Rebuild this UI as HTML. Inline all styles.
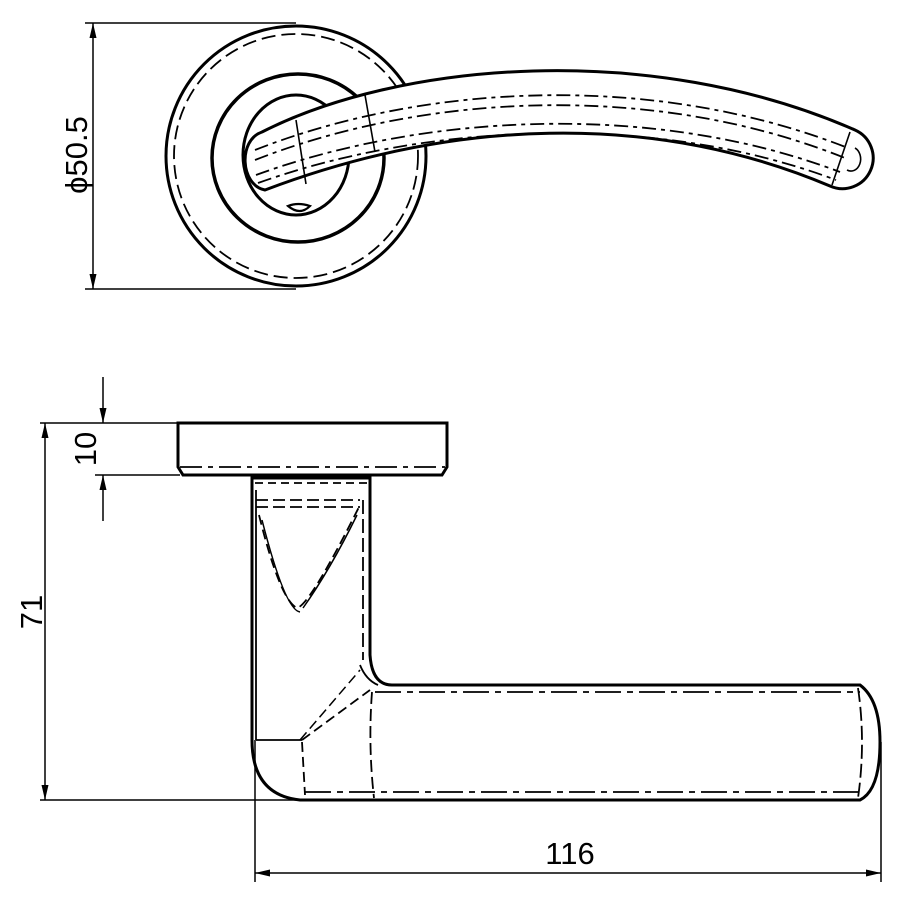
<!DOCTYPE html>
<html><head><meta charset="utf-8"><style>
html,body{margin:0;padding:0;background:#fff;}
svg{display:block}
text{font-family:"Liberation Sans",sans-serif;font-size:31px;fill:#000}
</style></head><body>
<svg width="900" height="900" viewBox="0 0 900 900" xmlns="http://www.w3.org/2000/svg">
<defs>
<marker id="a" markerWidth="15" markerHeight="7" refX="15" refY="3.5" orient="auto-start-reverse" markerUnits="userSpaceOnUse">
<path d="M0,0 L15,3.5 L0,7z" fill="#000" stroke="none"/></marker>
</defs>
<g fill="none" stroke="#000">
<!-- TOP VIEW -->
<line x1="85" y1="23" x2="296" y2="23" stroke-width="1.5"/>
<line x1="85" y1="289" x2="296" y2="289" stroke-width="1.5"/>
<line x1="93" y1="23" x2="93" y2="289" stroke-width="1.5" marker-start="url(#a)" marker-end="url(#a)"/>
<circle cx="296" cy="156" r="130" stroke-width="3"/>
<circle cx="296" cy="156" r="122" stroke-width="1.8" stroke-dasharray="14 6"/>
<ellipse cx="298" cy="158" rx="86" ry="84" stroke-width="3.5"/>
<ellipse cx="296" cy="155" rx="53" ry="60" stroke-width="3"/>
<path d="M288,206 q10,-4 22,0 q-10,10 -22,0z" stroke-width="2.2"/>
<!-- lever -->
<path d="M262,132 C400,62 650,40 855,130 A26,26 0 0 1 830,186 C650,110 450,120 265,190 C240,185 238,140 262,132z" fill="#fff" stroke-width="3"/>
<path d="M255,150 C420,85 650,70 848,148" stroke-width="1.8" stroke-dasharray="14 5 4 5"/>
<path d="M255,160 C420,95 650,80 845,158" stroke-width="1.8" stroke-dasharray="14 5 4 5"/>
<path d="M256,175 C420,115 650,100 840,172" stroke-width="1.8" stroke-dasharray="14 5 4 5"/>
<path d="M258,183 C420,125 650,110 836,180" stroke-width="1.8" stroke-dasharray="14 5 4 5"/>
<line x1="296" y1="120" x2="306" y2="184" stroke-width="1.6"/>
<line x1="365" y1="95" x2="375" y2="152" stroke-width="1.6"/>
<line x1="850" y1="132" x2="832" y2="185" stroke-width="1.6"/>
<path d="M855,148 a8,10 0 0 1 -8,22" stroke-width="1.6"/>
<!-- SIDE VIEW dims -->
<line x1="40" y1="423" x2="178" y2="423" stroke-width="1.5"/>
<line x1="95" y1="475" x2="180" y2="475" stroke-width="1.5"/>
<line x1="103" y1="377" x2="103" y2="423" stroke-width="1.5" marker-end="url(#a)"/>
<line x1="103" y1="521" x2="103" y2="475" stroke-width="1.5" marker-end="url(#a)"/>
<line x1="45" y1="423" x2="45" y2="800" stroke-width="1.5" marker-start="url(#a)" marker-end="url(#a)"/>
<line x1="40" y1="800" x2="300" y2="800" stroke-width="1.5"/>
<line x1="255" y1="740" x2="255" y2="882" stroke-width="1.5"/>
<line x1="881" y1="742" x2="881" y2="882" stroke-width="1.5"/>
<line x1="255" y1="873" x2="881" y2="873" stroke-width="1.5" marker-start="url(#a)" marker-end="url(#a)"/>
<!-- rose -->
<path d="M178,423 L447,423 L447,467 L442,475 L183,475 L178,467z" stroke-width="3"/>
<line x1="180" y1="467" x2="445" y2="467" stroke-width="1.8" stroke-dasharray="22 6 5 6"/>
<!-- stem & lever -->
<path d="M252,478 L370,478 L370,655 Q372,685 392,685 L860,685 Q880,700 880,742 Q880,790 860,800 L300,800 Q252,795 252,740z" stroke-width="3"/>
<line x1="255" y1="483" x2="368" y2="483" stroke-width="1.8" stroke-dasharray="8 5"/>
<line x1="256" y1="500" x2="360" y2="500" stroke-width="1.8" stroke-dasharray="12 5"/>
<line x1="256" y1="507" x2="360" y2="507" stroke-width="1.8" stroke-dasharray="12 5"/>
<line x1="256" y1="490" x2="256" y2="740" stroke-width="1.8"/>
<line x1="363" y1="500" x2="363" y2="660" stroke-width="1.8" stroke-dasharray="14 5"/>
<path d="M259,515 Q280,600 297,608 Q310,605 360,505" stroke-width="1.8" stroke-dasharray="10 5"/>
<path d="M262,520 Q285,610 300,612" stroke-width="1.5"/>
<path d="M357,515 Q330,570 303,608" stroke-width="1.5"/>
<line x1="256" y1="740" x2="302" y2="740" stroke-width="1.8"/>
<path d="M302,740 L370,690" stroke-width="1.8" stroke-dasharray="10 5"/>
<path d="M300,740 L360,670" stroke-width="1.5" stroke-dasharray="10 5"/>
<path d="M360,665 Q366,680 378,685" stroke-width="1.8"/>
<line x1="302" y1="742" x2="305" y2="795" stroke-width="1.8" stroke-dasharray="10 5"/>
<path d="M372,692 Q368,745 374,798" stroke-width="1.8" stroke-dasharray="12 5"/>
<line x1="375" y1="692" x2="860" y2="692" stroke-width="1.8" stroke-dasharray="26 6 6 6"/>
<line x1="305" y1="792" x2="860" y2="792" stroke-width="1.8" stroke-dasharray="26 6 6 6"/>
<path d="M858,688 Q866,742 858,798" stroke-width="1.8" stroke-dasharray="14 5"/>
</g>
<text x="0" y="0" transform="translate(87,155) rotate(-90)" text-anchor="middle">ϕ50.5</text>
<text x="0" y="0" transform="translate(96,449) rotate(-90)" text-anchor="middle">10</text>
<text x="0" y="0" transform="translate(42,612) rotate(-90)" text-anchor="middle">71</text>
<text x="570" y="864" text-anchor="middle">116</text>
</svg>
</body></html>
